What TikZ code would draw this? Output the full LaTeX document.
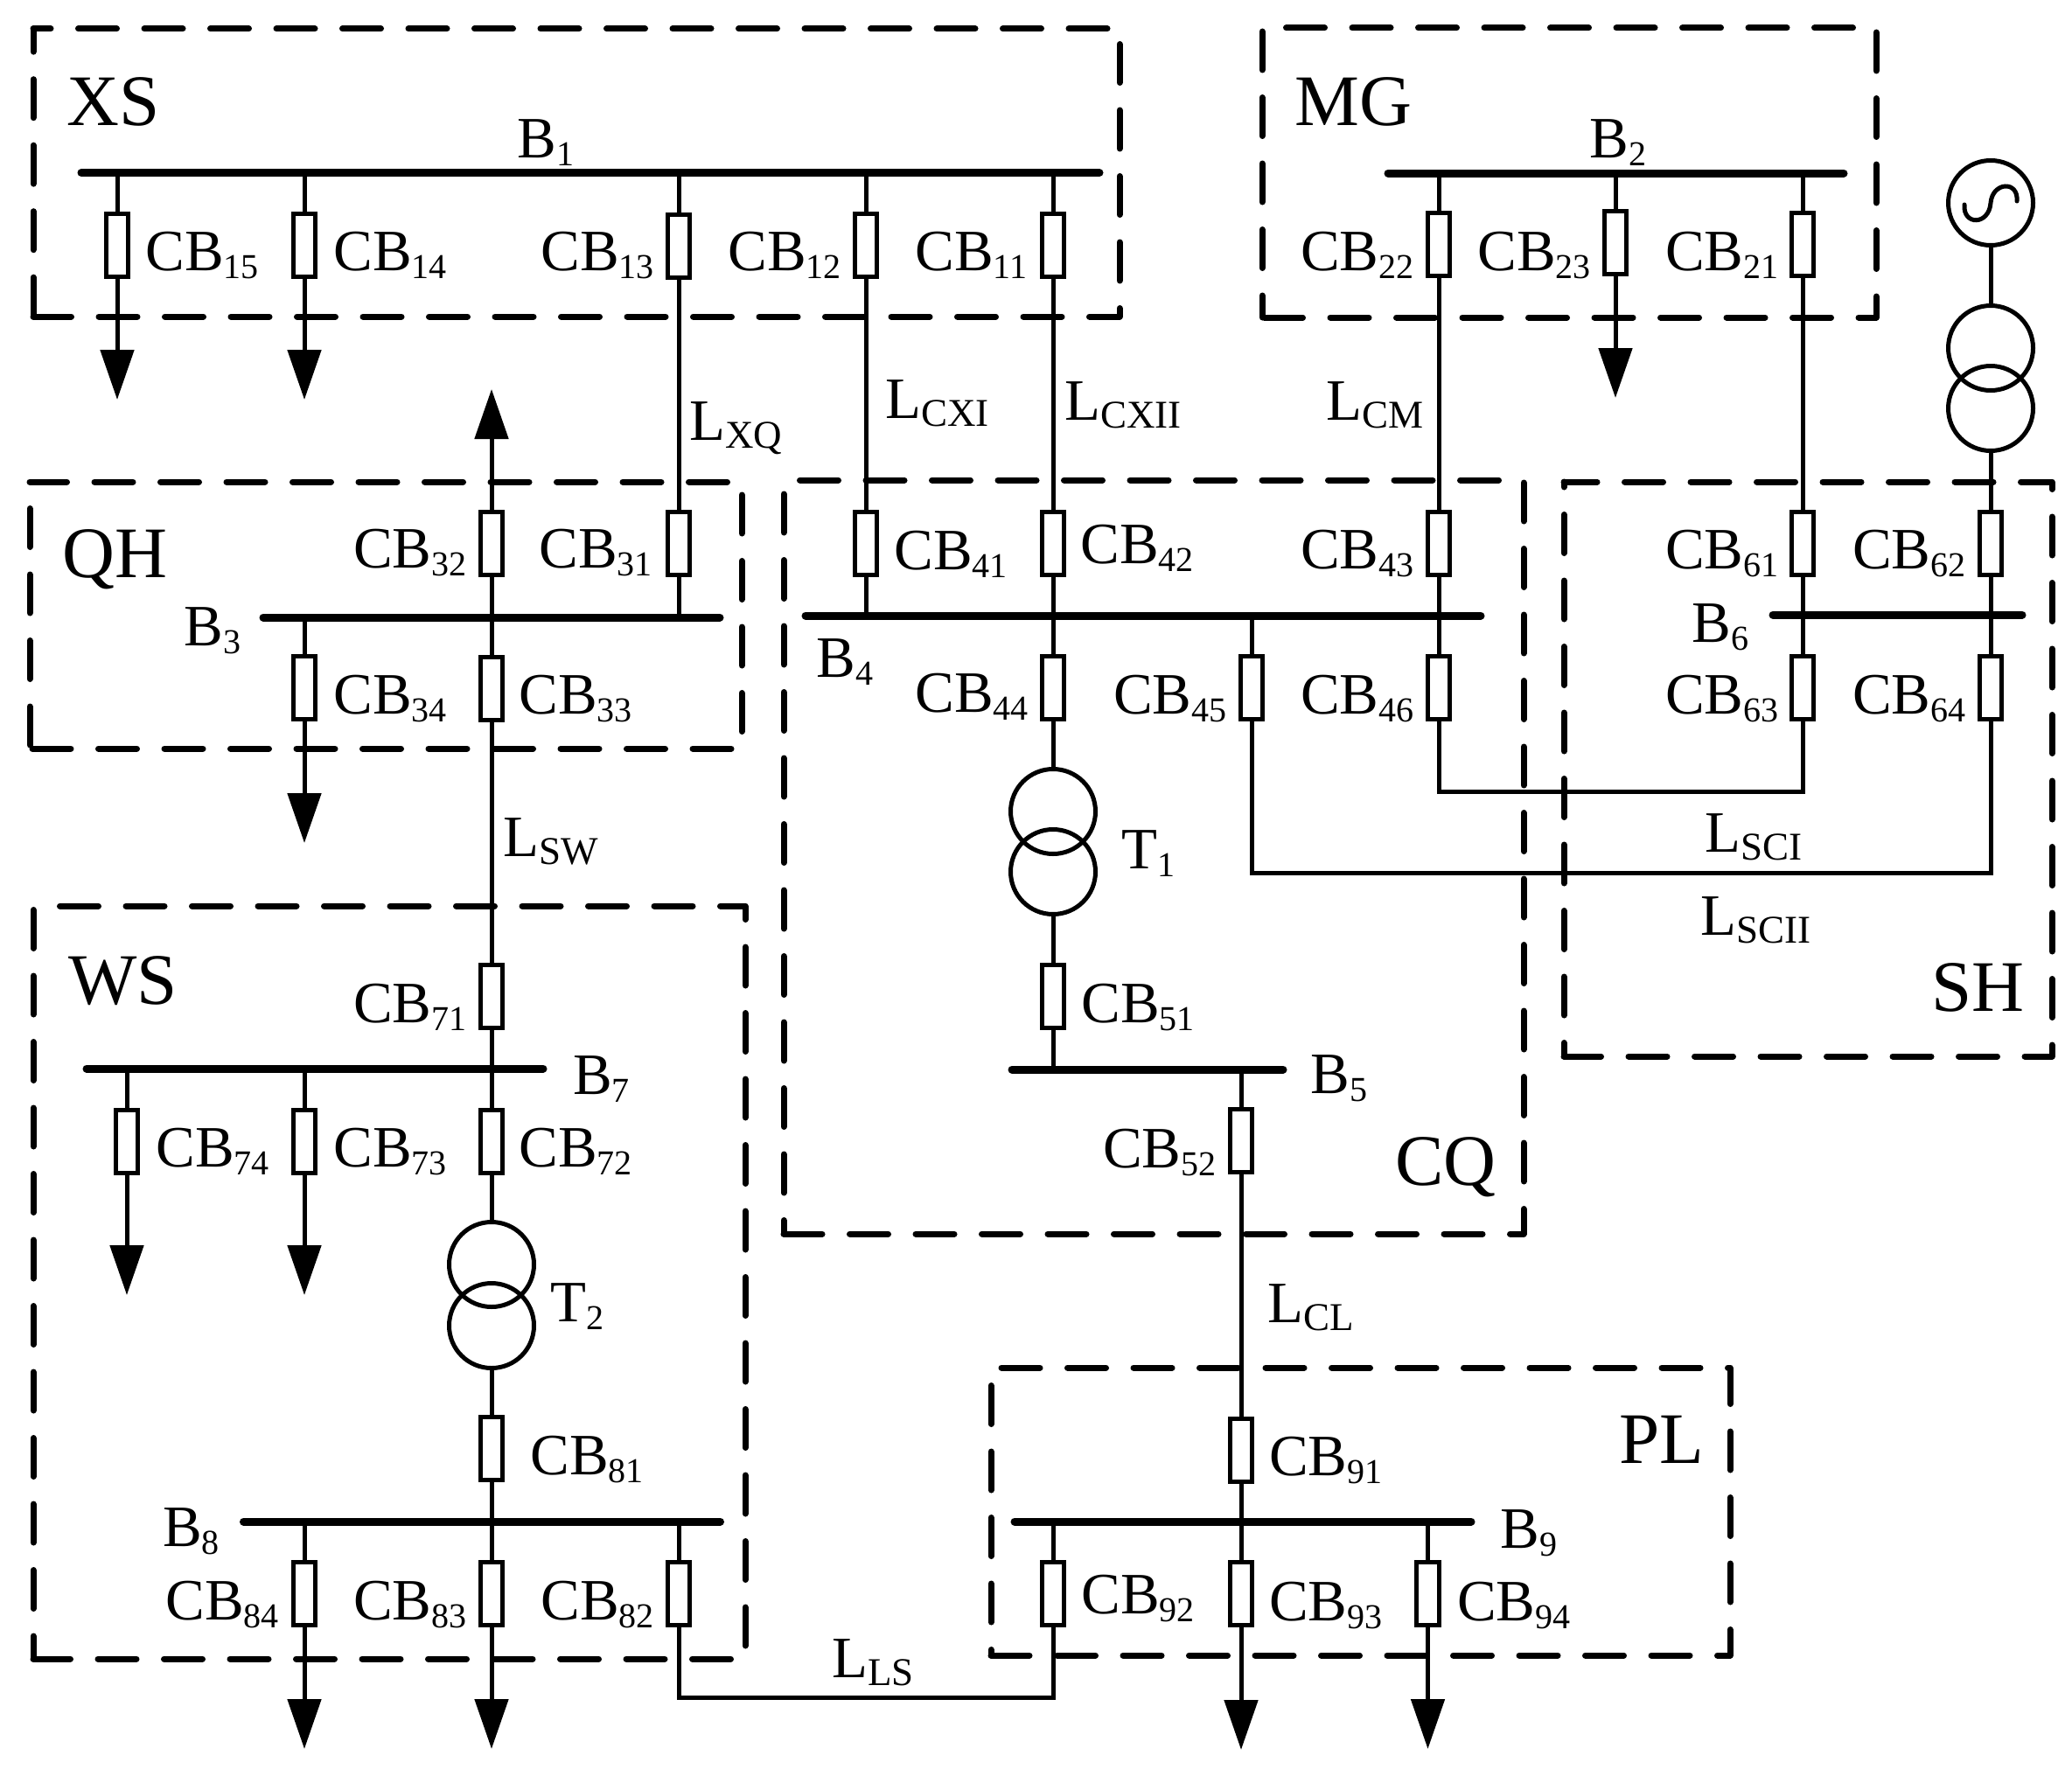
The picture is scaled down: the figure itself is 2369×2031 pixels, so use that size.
\documentclass[tikz,border=0pt]{standalone}
\usepackage{fontspec}
\setmainfont{Liberation Serif}
\usetikzlibrary{arrows.meta}
\newcommand\lbl[4]{\node[lab] (#1) at (#2,#3) {#4};}
\newcommand\subs[1]{\raisebox{-9pt}{\fontsize{40}{40}\selectfont #1}}
\newcommand\subl[1]{\raisebox{-9pt}{\fontsize{45}{45}\selectfont #1}}
\newcommand\cbl[4]{\node[lab] (lab#1) at (#2,#3) {#4\subs{#1}};}
\newcommand\brk[3]{\node[cb] (cb#1) at (#2,#3) {};}
\newcommand\areabox[7]{% x1,y1,x2,y2,phase for top/right/bottom,phase for left,name
  \coordinate (#7nw) at (#1,#2); \coordinate (#7ne) at (#3,#2);
  \coordinate (#7se) at (#3,#4); \coordinate (#7sw) at (#1,#4);
  \draw[area=#5] (#7nw) -- (#7ne) -- (#7se) -- (#7sw);
  \draw[area=#6] (#7nw) -- (#7sw);}
\tikzset{
  lab/.style={anchor=base west,inner sep=0pt,outer sep=0pt,xshift=-1.5pt,yshift=0.5pt,font=\fontsize{67}{70}\selectfont},
  big/.style={anchor=base west,inner sep=0pt,outer sep=0pt,xshift=-1.5pt,yshift=0pt,font=\fontsize{83}{86}\selectfont},
  cb/.style={draw,line width=5pt,fill=white,rectangle,minimum width=25.5pt,minimum height=72pt,inner sep=0pt,outer sep=2.5pt},
  wire/.style={line width=5pt},
  bus/.style={line width=9pt,line cap=round},
  area/.style={line width=7pt,line cap=round,line join=round,dash pattern=on 44pt off 31.5pt,dash phase=#1pt},
  load/.style={line width=5pt,-{Triangle[length=57pt,width=38pt]}},
  coil/.style={draw,circle,line width=5pt,minimum size=97pt,inner sep=0pt,outer sep=2.5pt},
}
\begin{document}
\begin{tikzpicture}[x=1pt,y=-1pt]
\useasboundingbox (0,0) rectangle (2369,2031);
\fill[white] (0,0) rectangle (2369,2031);
% area boundaries
\areabox{38}{33}{1280}{362}{24}{17.8}{XSb}
\areabox{1443}{32}{2145}{363}{48}{71.5}{MGb}
\areabox{34}{551}{848}{856}{1.5}{45}{QHb}
\areabox{896}{549}{1742}{1411}{57}{59.5}{CQb}
\areabox{1788}{551}{2346}{1208}{6}{38}{SHb}
\areabox{38}{1036}{852}{1897}{45}{71}{WSb}
\areabox{1133}{1564}{1978}{1893}{63.5}{55}{PLb}
% bus coordinates
\coordinate (B1w) at (93,197.5); \coordinate (B1e) at (1257,197.5);
\coordinate (B2w) at (1587,198); \coordinate (B2e) at (2108,198);
\coordinate (B3w) at (301,706); \coordinate (B3e) at (823,706);
\coordinate (B4w) at (921,704); \coordinate (B4e) at (1693,704);
\coordinate (B5w) at (1157,1223); \coordinate (B5e) at (1467,1223);
\coordinate (B6w) at (2027,703); \coordinate (B6e) at (2312,703);
\coordinate (B7w) at (99,1222); \coordinate (B7e) at (621,1222);
\coordinate (B8w) at (278.5,1740); \coordinate (B8e) at (823.5,1740);
\coordinate (B9w) at (1160,1740); \coordinate (B9e) at (1682,1740);
% breakers
\brk{15}{134}{280}\brk{14}{348}{280}\brk{13}{776}{281}\brk{12}{990}{280}\brk{11}{1204}{280}
\brk{22}{1645}{279}\brk{23}{1847}{277}\brk{21}{2061}{279}
\brk{32}{562}{621}\brk{31}{776}{621}\brk{34}{348}{786}\brk{33}{562}{787}
\brk{41}{990}{621}\brk{42}{1204}{621}\brk{43}{1645}{621}
\brk{44}{1204}{786}\brk{45}{1431}{786}\brk{46}{1645}{786}
\brk{61}{2061}{621}\brk{62}{2276}{621}\brk{63}{2061}{786}\brk{64}{2276}{786}
\brk{51}{1204}{1139}\brk{52}{1419}{1304.5}
\brk{71}{562}{1139.5}\brk{74}{145}{1305}\brk{73}{348}{1305}\brk{72}{562}{1305}
\brk{81}{562}{1656.5}\brk{84}{348}{1822.5}\brk{83}{562}{1822.5}\brk{82}{776}{1822.5}
\brk{91}{1419}{1658}\brk{92}{1204}{1822.5}\brk{93}{1419}{1822.5}\brk{94}{1632.5}{1822.5}
% transformers and generator
\node[coil] (T1a) at (1204,928) {}; \node[coil] (T1b) at (1204,997) {};
\node[coil] (T2a) at (562,1446) {}; \node[coil] (T2b) at (562,1516) {};
\node[coil] (T3a) at (2276,398) {}; \node[coil] (T3b) at (2276,467) {};
\node[coil] (G) at (2276,232) {};
\draw[line width=5pt,line cap=round] (2246,234) .. controls (2244,258) and (2274,258) .. (2276,232) .. controls (2278,208) and (2308,206) .. (2306,230);
% bus junctions
\foreach \n/\x in {15/134,14/348,13/776,12/990,11/1204}{\coordinate (j\n) at (\x,197.5);}
\foreach \n/\x in {22/1645,23/1847,21/2061}{\coordinate (j\n) at (\x,198);}
\foreach \n/\x in {32/562,31/776,34/348,33/562}{\coordinate (j\n) at (\x,706);}
\foreach \n/\x in {41/990,42/1204,43/1645,44/1204,45/1431,46/1645}{\coordinate (j\n) at (\x,704);}
\foreach \n/\x in {61/2061,62/2276,63/2061,64/2276}{\coordinate (j\n) at (\x,703);}
\foreach \n/\x in {51/1204,52/1419}{\coordinate (j\n) at (\x,1223);}
\foreach \n/\x in {71/562,72/562,73/348,74/145}{\coordinate (j\n) at (\x,1222);}
\foreach \n/\x in {81/562,82/776,83/562,84/348}{\coordinate (j\n) at (\x,1740);}
\foreach \n/\x in {91/1419,92/1204,93/1419,94/1632.5}{\coordinate (j\n) at (\x,1740);}
% breaker-to-bus stubs
\foreach \n in {15,14,13,12,11,22,23,21,34,33,44,45,46,63,64,52,74,73,72,84,83,82,92,93,94}{\draw[wire] (j\n) -- (cb\n.north);}
\foreach \n in {32,31,41,42,43,61,62,51,71,81,91}{\draw[wire] (cb\n.south) -- (j\n);}
% lines between breakers
\draw[wire] (cb13.south) -- (cb31.north);
\draw[wire] (cb12.south) -- (cb41.north);
\draw[wire] (cb11.south) -- (cb42.north);
\draw[wire] (cb22.south) -- (cb43.north);
\draw[wire] (cb21.south) -- (cb61.north);
\draw[wire] (cb33.south) -- (cb71.north);
\draw[wire] (cb52.south) -- (cb91.north);
\coordinate (s1a) at (1645,905); \coordinate (s1b) at (2061,905);
\coordinate (s2a) at (1431,998); \coordinate (s2b) at (2276,998);
\coordinate (lsa) at (776,1941.5); \coordinate (lsb) at (1204,1941.5);
\draw[wire,line join=miter] (cb46.south) -- (s1a) -- (s1b) -- (cb63.south);
\draw[wire,line join=miter] (cb45.south) -- (s2a) -- (s2b) -- (cb64.south);
\draw[wire,line join=miter] (cb82.south) -- (lsa) -- (lsb) -- (cb92.south);
% transformer connections
\draw[wire] (cb44.south) -- (T1a.north); \draw[wire] (T1b.south) -- (cb51.north);
\draw[wire] (cb72.south) -- (T2a.north); \draw[wire] (T2b.south) -- (cb81.north);
\draw[wire] (G.south) -- (T3a.north); \draw[wire] (T3b.south) -- (cb62.north);
% loads
\coordinate (a15) at (134,457); \coordinate (a14) at (348,457); \coordinate (a23) at (1847,455);
\coordinate (a32) at (562,445); \coordinate (a34) at (348,964);
\coordinate (a74) at (145,1481); \coordinate (a73) at (348,1481);
\coordinate (a84) at (348,2000); \coordinate (a83) at (562,2000);
\coordinate (a93) at (1419,2001); \coordinate (a94) at (1632.5,2000);
\foreach \n in {15,14,23,34,74,73,84,83,93,94}{\draw[load] (cb\n.south) -- (a\n);}
\draw[load] (cb32.north) -- (a32);
% buses
\foreach \b in {1,...,9}{\draw[bus] (B\b w) -- (B\b e);}
% area labels
\node[big] (XS) at (78,143.5) {XS};
\node[big] (MG) at (1482,144) {MG};
\node[big] (QH) at (73,660) {QH};
\node[big] (WS) at (80,1148) {WS};
\node[big] (SH) at (2210,1156) {SH};
\node[big] (CQ) at (1597,1355) {CQ};
\node[big] (PL) at (1852.5,1673) {PL};
% bus labels
\lbl{lB1}{593}{181}{B\subs{1}}
\lbl{lB2}{1819}{181}{B\subs{2}}
\lbl{lB3}{212}{739}{B\subs{3}}
\lbl{lB4}{935}{775}{B\subs{4}}
\lbl{lB5}{1500}{1251}{B\subs{5}}
\lbl{lB6}{1936}{734.5}{B\subs{6}}
\lbl{lB7}{656.6}{1252}{B\subs{7}}
\lbl{lB8}{187.5}{1769}{B\subs{8}}
\lbl{lB9}{1717}{1771}{B\subs{9}}
\lbl{lT1}{1284}{994}{T\subs{1}}
\lbl{lT2}{631}{1511.5}{T\subs{2}}
% line labels
\lbl{lXQ}{790}{504}{L\subl{XQ}}
\lbl{lCXI}{1014}{479}{L\subl{CXI}}
\lbl{lCXII}{1218.6}{480.5}{L\subl{CXII}}
\lbl{lCM}{1518}{480.5}{L\subl{CM}}
\lbl{lSW}{577}{980}{L\subl{SW}}
\lbl{lSCI}{1951}{975}{L\subl{SCI}}
\lbl{lSCII}{1945.7}{1070}{L\subl{SCII}}
\lbl{lCL}{1451}{1513}{L\subl{CL}}
\lbl{lLS}{953}{1918.5}{L\subl{LS}}
% breaker labels
\cbl{15}{168}{310}{CB}\cbl{14}{383}{310}{CB}\cbl{13}{620}{310}{CB}\cbl{12}{834}{310}{CB}\cbl{11}{1048}{310}{CB}
\cbl{22}{1488.6}{310}{CB}\cbl{23}{1691}{310}{CB}\cbl{21}{1905.5}{310}{CB}
\cbl{32}{405.6}{650}{CB}\cbl{31}{618}{650}{CB}\cbl{34}{383}{817}{CB}\cbl{33}{595}{817}{CB}
\cbl{41}{1024}{651.5}{CB}\cbl{42}{1237}{645}{CB}\cbl{43}{1488.6}{651}{CB}
\cbl{44}{1048}{815}{CB}\cbl{45}{1274.6}{817}{CB}\cbl{46}{1488.6}{817}{CB}
\cbl{61}{1905.5}{651}{CB}\cbl{62}{2119.5}{651}{CB}\cbl{63}{1905.5}{817}{CB}\cbl{64}{2119.5}{817}{CB}
\cbl{51}{1238}{1169.5}{CB}\cbl{52}{1262.6}{1336}{CB}
\cbl{71}{405.6}{1170}{CB}\cbl{74}{180}{1335}{CB}\cbl{73}{383}{1335}{CB}\cbl{72}{595}{1335}{CB}
\cbl{81}{608}{1687}{CB}\cbl{84}{191}{1853}{CB}\cbl{83}{405.6}{1853}{CB}\cbl{82}{620}{1853}{CB}
\cbl{91}{1452.7}{1688}{CB}\cbl{92}{1238}{1846}{CB}\cbl{93}{1452.7}{1854}{CB}\cbl{94}{1667.6}{1854}{CB}
\end{tikzpicture}
\end{document}
